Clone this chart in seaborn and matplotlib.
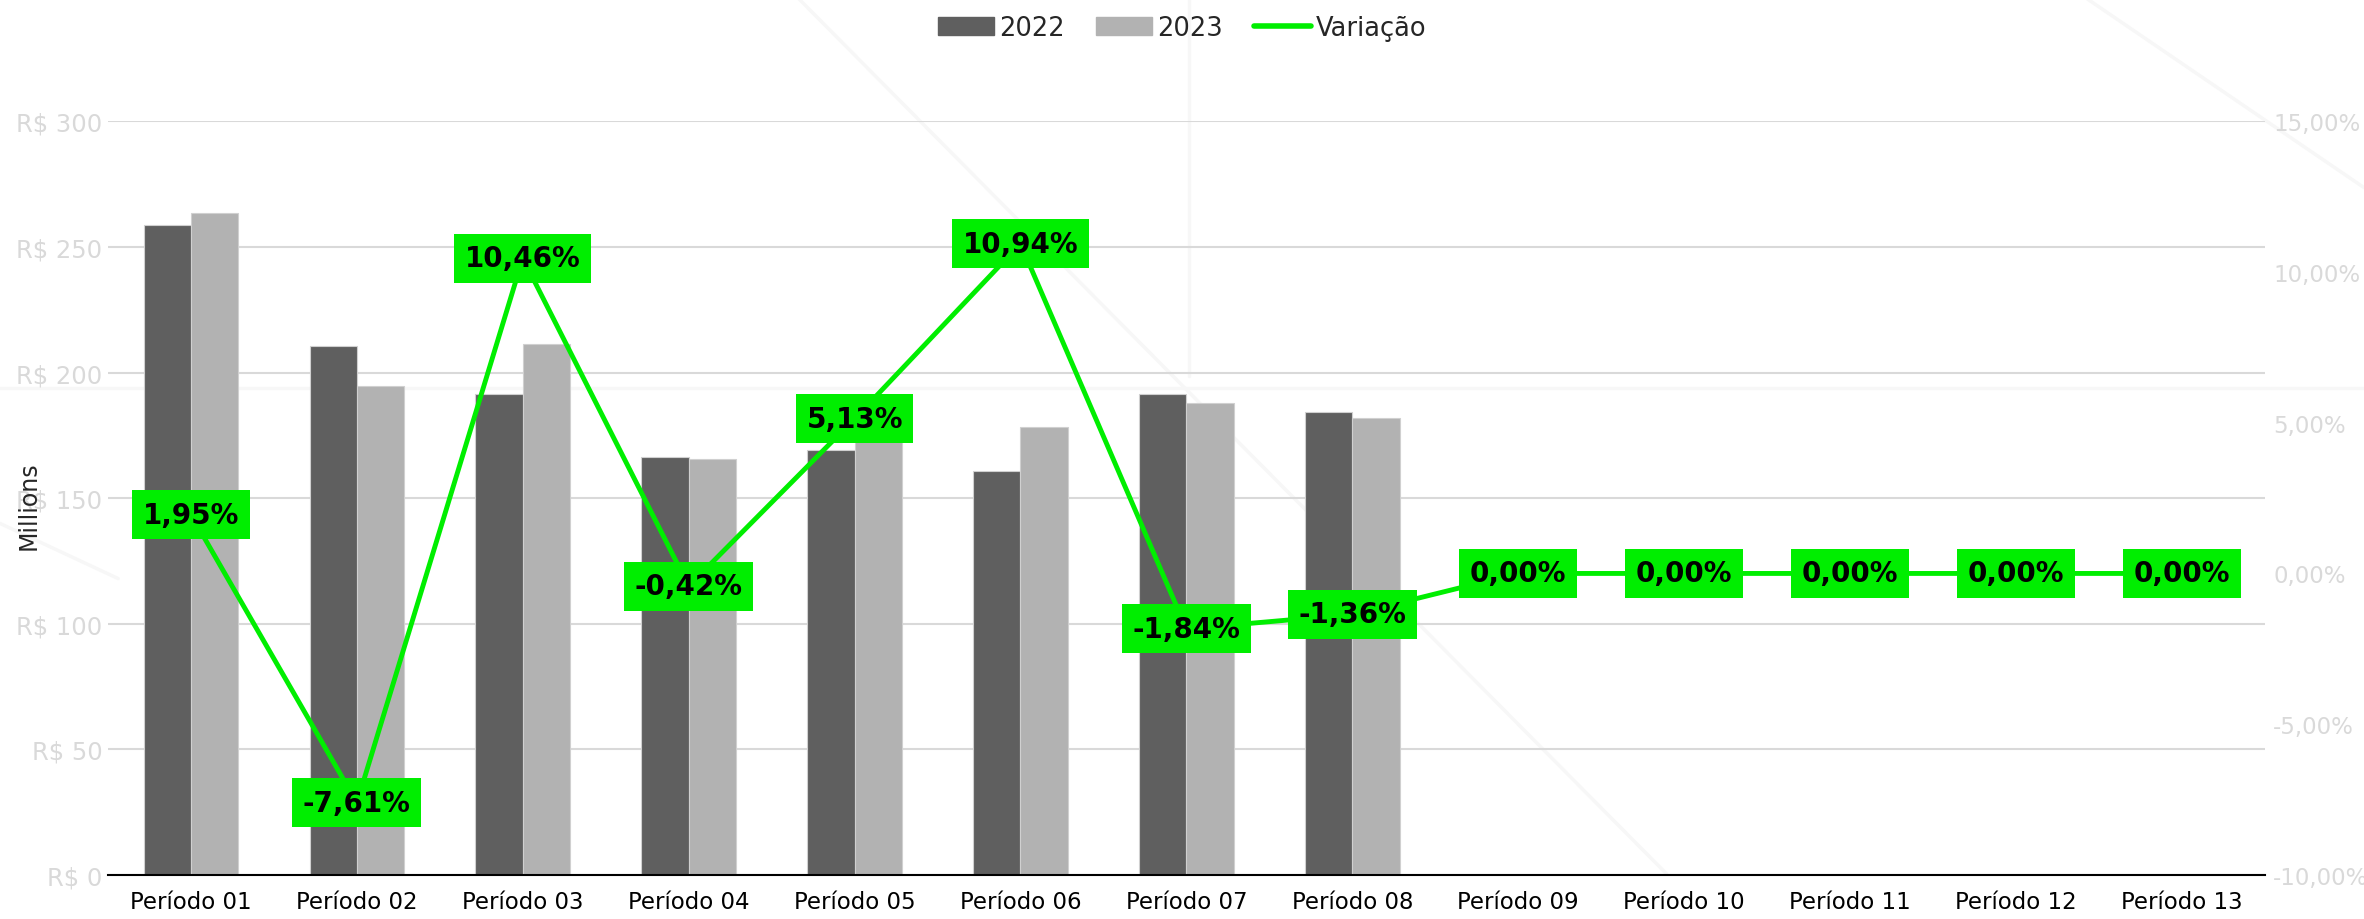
import numpy as np
import pandas as pd
import seaborn as sns
import matplotlib.pyplot as plt
from matplotlib.lines import Line2D
from matplotlib.patches import Patch
from matplotlib.ticker import FuncFormatter, MultipleLocator

periodos = [f"Período {i:02d}" for i in range(1, 14)]
valores_2022 = [258.6, 210.6, 191.4, 166.2, 169.2, 160.8, 191.4, 184.2] + [np.nan] * 5
valores_2023 = [263.6, 194.6, 211.4, 165.5, 177.9, 178.4, 187.9, 181.7] + [np.nan] * 5
variacao = [1.95, -7.61, 10.46, -0.42, 5.13, 10.94, -1.84, -1.36, 0.0, 0.0, 0.0, 0.0, 0.0]

cor_2022 = "#5f5f5f"
cor_2023 = "#b2b2b2"
verde = "#00ee00"
cinza_txt = "#d9d9d9"

df = pd.DataFrame({
    "periodo": periodos * 2,
    "ano": ["2022"] * 13 + ["2023"] * 13,
    "valor": valores_2022 + valores_2023,
})

sns.set_style("white")
plt.rcParams["font.family"] = ["DejaVu Sans"]

fig = plt.figure(figsize=(23.64, 9.2), dpi=100)

# faint watermark lines in the background
for xs, ys in [((0, 1), (0.577, 0.577)), ((0.338, 0.705), (1.0, 0.049)),
               ((0.883, 1.0), (1.0, 0.795)), ((0.0, 0.05), (0.43, 0.37)),
               ((0.503, 0.503), (1.0, 0.59))]:
    fig.add_artist(Line2D(xs, ys, transform=fig.transFigure, color="#f7f7f7",
                          linewidth=2.5, zorder=-5))

ax = fig.add_axes([0.0457, 0.048, 0.9123, 0.819])
ax.patch.set_visible(False)

sns.barplot(data=df, x="periodo", y="valor", hue="ano", order=periodos,
            palette={"2022": cor_2022, "2023": cor_2023}, width=0.57,
            edgecolor="#d0d0d0", linewidth=0.8, ax=ax, legend=False)

ax.set_ylim(0, 300)
ax.set_xlim(-0.5, 12.5)
ax.yaxis.set_major_locator(MultipleLocator(50))
ax.yaxis.set_major_formatter(FuncFormatter(lambda v, p: f"R$ {v:.0f}"))
ax.grid(axis="y", color="#d9d9d9", linewidth=1.5)
ax.set_axisbelow(True)
ax.tick_params(axis="y", labelsize=17.5, labelcolor=cinza_txt, length=0, pad=4)
ax.tick_params(axis="x", labelsize=16.5, labelcolor="black", length=0, pad=11)
ax.set_xlabel("")
ax.set_ylabel("")
for s in ["top", "right", "left"]:
    ax.spines[s].set_visible(False)
ax.spines["bottom"].set_color("black")
ax.spines["bottom"].set_linewidth(1.5)
fig.text(0.012, 0.45, "Millions", rotation=90, ha="center", va="center", fontsize=17)

ax2 = ax.twinx()
sns.lineplot(x=np.arange(13), y=variacao, color=verde, linewidth=3.5, ax=ax2)
ax2.set_ylim(-10, 15)
ax2.yaxis.set_major_locator(MultipleLocator(5))
ax2.yaxis.set_major_formatter(FuncFormatter(lambda v, p: f"{v:.2f}%".replace(".", ",")))
ax2.tick_params(axis="y", labelsize=16.5, labelcolor=cinza_txt, length=0, pad=6)
for s in ax2.spines.values():
    s.set_visible(False)
ax2.grid(False)

for i, v in enumerate(variacao):
    ax2.text(i, v, f"{v:.2f}%".replace(".", ","), ha="center", va="center",
             fontsize=20, fontweight="bold", color="black", zorder=5,
             bbox=dict(boxstyle="square,pad=0.38", fc=verde, ec="none"))

handles = [Patch(color=cor_2022), Patch(color=cor_2023),
           Line2D([0], [0], color=verde, linewidth=4, solid_capstyle="round")]
fig.legend(handles, ["2022", "2023", "Variação"], loc="upper center",
           bbox_to_anchor=(0.5, 1.008), ncol=3, frameon=False, fontsize=18.5,
           handlelength=2.2, handletextpad=0.2, columnspacing=1.2)

fig.savefig("out.png", dpi=100)
